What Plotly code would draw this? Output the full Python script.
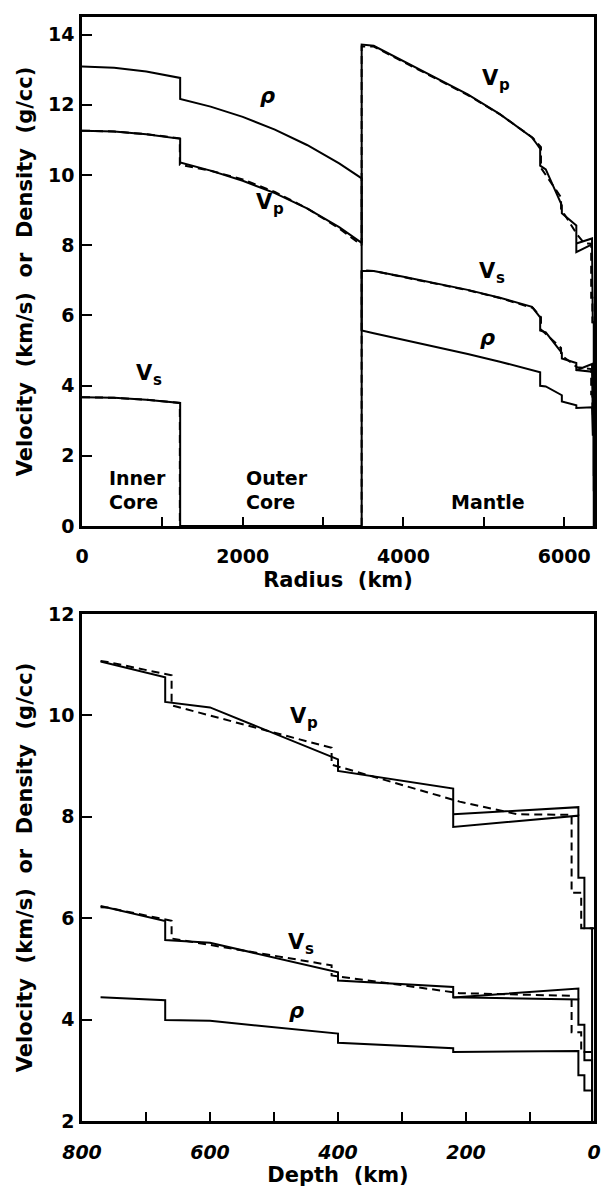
import plotly.graph_objects as go

# ---------------- data (solid and dashed reference models) -------------
# solid model: radius (km) knots, with repeated radii at discontinuities
prem_r = [0, 400, 800, 1221.5, 1221.5, 1600, 2000, 2400, 2800, 3200, 3480,
          3480, 3630, 4000, 4400, 4800, 5200, 5600, 5650, 5701,
          5701, 5771, 5971, 5971, 6151, 6151, 6346.6, 6346.6, 6356, 6356, 6368, 6368, 6371]
prem_rho = [13.0885, 13.0537, 12.9491, 12.7636, 12.1663, 11.9468, 11.6548, 11.2930, 10.8532, 10.3273, 9.9034,
            5.5665, 5.4915, 5.3073, 5.1059, 4.8979, 4.6784, 4.4431, 4.4125, 4.3807,
            3.9921, 3.9758, 3.7237, 3.5433, 3.4358, 3.3595, 3.3808, 2.9, 2.9, 2.6, 2.6, 1.02, 1.02]
prem_vp = [11.2622, 11.2371, 11.1619, 11.0283, 10.3557, 10.1229, 9.8350, 9.4841, 9.0502, 8.5130, 8.0648,
           13.7166, 13.6804, 13.2453, 12.7838, 12.2931, 11.7332, 11.0656, 10.9100, 10.7513,
           10.2662, 10.1578, 9.1339, 8.9052, 8.5589, 7.8005, 8.0221, 6.8, 6.8, 5.8, 5.8, 1.45, 1.45]
prem_vs = [3.6678, 3.6503, 3.5977, 3.5043, 0, 0, 0, 0, 0, 0, 0,
           7.2647, 7.2660, 7.0997, 6.9195, 6.7254, 6.5036, 6.2404, 6.0943, 5.9452,
           5.5702, 5.5159, 4.9325, 4.7699, 4.6439, 4.4411, 4.3960, 3.9, 3.9, 3.2, 3.2, 0, 0]
# horizontal (anisotropic) branch of the upper mantle
prem_r_h = [6151, 6346.6, 6346.6]
prem_vph = [8.0486, 8.1903, 8.0221]
prem_vsh = [4.4363, 4.6118, 4.3960]

# dashed model
ak_r = [0, 400, 800, 1217.5, 1217.5, 1600, 2000, 2400, 2800, 3200, 3479.5,
        3479.5, 3631, 4000, 4400, 4800, 5200, 5600, 5611, 5711,
        5711, 5961, 5961, 6161, 6251, 6336, 6336, 6351, 6351, 6371]
ak_vp = [11.2622, 11.2371, 11.1619, 11.0427, 10.2890, 10.1203, 9.8711, 9.5143, 9.0496, 8.4771, 8.0000,
         13.6601, 13.6564, 13.2202, 12.7607, 12.2764, 11.7282, 11.0754, 11.0558, 10.7900,
         10.2000, 9.3600, 9.0300, 8.3000, 8.0500, 8.0400, 6.5, 6.5, 5.8, 5.8]
ak_vs = [3.6678, 3.6503, 3.5977, 3.5043, 0, 0, 0, 0, 0, 0, 0,
         7.2817, 7.2646, 7.0887, 6.9078, 6.7163, 6.4934, 6.2182, 6.2094, 5.9500,
         5.6000, 5.0700, 4.8700, 4.5220, 4.5000, 4.4700, 3.75, 3.75, 3.36, 3.36]

EARTH_R = 6371
BOTTOM_MIN_R = 5600  # lower panel shows the upper ~770 km

top_xticks = [0, 2000, 4000, 6000]
top_yticks = [0, 2, 4, 6, 8, 10, 12, 14]
bot_xticks = [0, 200, 400, 600, 800]
bot_yticks = [2, 4, 6, 8, 10, 12]

# ---------------- figure -------------
FONT = "DejaVu Sans"
fig = go.Figure()

solid = dict(color="black", width=2)
dashed = dict(color="black", width=2, dash="8px,5px")


def add(x, y, line, xa, ya):
    fig.add_trace(go.Scatter(x=x, y=y, mode="lines", line=line, xaxis=xa, yaxis=ya,
                             showlegend=False, hoverinfo="skip"))


# top panel (radius)
add(ak_r, ak_vp, dashed, "x", "y")
add(ak_r, ak_vs, dashed, "x", "y")
add(prem_r, prem_rho, solid, "x", "y")
add(prem_r, prem_vp, solid, "x", "y")
add(prem_r, prem_vs, solid, "x", "y")
add(prem_r_h, prem_vph, solid, "x", "y")
add(prem_r_h, prem_vsh, solid, "x", "y")


# bottom panel (depth)
def to_depth(rs, vs):
    pts = [(EARTH_R - r, v) for r, v in zip(rs, vs) if r >= BOTTOM_MIN_R]
    return [p[0] for p in pts], [p[1] for p in pts]


for rs, vs, ln in [(ak_r, ak_vp, dashed), (ak_r, ak_vs, dashed),
                   (prem_r, prem_rho, solid), (prem_r, prem_vp, solid), (prem_r, prem_vs, solid),
                   (prem_r_h, prem_vph, solid), (prem_r_h, prem_vsh, solid)]:
    d, v = to_depth(rs, vs)
    add(d, v, ln, "x2", "y2")

tickfont = dict(family=FONT, size=19, color="black", weight="bold")
titlefont = dict(family=FONT, size=21, color="black", weight="bold")
axis_common = dict(showline=True, linecolor="black", linewidth=2.5, mirror=True,
                   showgrid=False, zeroline=False, ticks="inside", tickcolor="black",
                   tickwidth=2, tickfont=tickfont)
ytitle = "Velocity  (km/s)  or  Density  (g/cc)"

fig.update_layout(
    width=607, height=1190,
    margin=dict(l=82, r=12, t=6, b=69),
    paper_bgcolor="white", plot_bgcolor="white",
    xaxis=dict(axis_common, domain=[0, 1], anchor="y", range=[0, EARTH_R],
               tickvals=top_xticks, ticklen=9, ticklabelstandoff=12,
               minor=dict(dtick=1000, ticks="inside", ticklen=9, tickwidth=2, tickcolor="black"),
               title=dict(text="Radius  (km)", font=titlefont, standoff=6)),
    yaxis=dict(axis_common, domain=[0.539, 1], anchor="x", range=[0, 14.5],
               tickvals=top_yticks, ticklen=10, ticklabelstandoff=1,
               title=dict(text=ytitle, font=titlefont, standoff=10)),
    xaxis2=dict(axis_common, domain=[0, 1], anchor="y2", range=[800, 0],
                tickvals=bot_xticks, ticklen=9, ticklabelstandoff=12,
                minor=dict(dtick=100, ticks="inside", ticklen=9, tickwidth=2, tickcolor="black"),
                tickfont=dict(tickfont, style="italic"),
                title=dict(text="Depth  (km)", font=titlefont, standoff=6)),
    yaxis2=dict(axis_common, domain=[0, 0.4592], anchor="x2", range=[2, 12],
                tickvals=bot_yticks, ticklen=10, ticklabelstandoff=1,
                title=dict(text=ytitle, font=titlefont, standoff=10)),
)

lab = dict(family=FONT, size=19, color="black", weight="bold")
curve = dict(family=FONT, size=21, color="black", weight="bold")
sub = dict(family=FONT, size=15, color="black", weight="bold")
rho = dict(family=FONT, size=21, color="black", weight="bold", style="italic")

# plain text labels: (xref, yref, x, y, text, font, xanchor)
texts = [
    ("x", "y", 311, 1.36, "Inner", lab, "left"),
    ("x", "y", 311, 0.68, "Core", lab, "left"),
    ("x", "y", 2012, 1.36, "Outer", lab, "left"),
    ("x", "y", 2012, 0.68, "Core", lab, "left"),
    ("x", "y", 5056, 0.68, "Mantle", lab, "center"),
    ("x", "y", 2311, 12.25, "ρ", rho, "center"),
    ("x", "y", 5050, 5.36, "ρ", rho, "center"),
    ("x2", "y2", 465, 4.16, "ρ", rho, "center"),
]
for xa, ya, x, y, t, f, xanc in texts:
    fig.add_annotation(x=x, y=y, xref=xa, yref=ya, text=t, showarrow=False,
                       font=f, xanchor=xanc, yanchor="middle")

# velocity labels: V with a subscript letter, drawn as two pieces
vlabels = [
    ("x", "y", 2354, 9.17, "p"),
    ("x", "y", 5161, 12.7, "p"),
    ("x", "y", 5130, 7.2, "s"),
    ("x", "y", 863, 4.3, "s"),
    ("x2", "y2", 451, 9.95, "p"),
    ("x2", "y2", 454, 5.5, "s"),
]
for xa, ya, x, y, s in vlabels:
    fig.add_annotation(x=x, y=y, xref=xa, yref=ya, text="V", showarrow=False,
                       font=curve, xanchor="right", yanchor="middle", xshift=4, yshift=2)
    fig.add_annotation(x=x, y=y, xref=xa, yref=ya, text=s, showarrow=False,
                       font=sub, xanchor="left", yanchor="middle", xshift=0, yshift=-5)

fig.write_html("out.html")
